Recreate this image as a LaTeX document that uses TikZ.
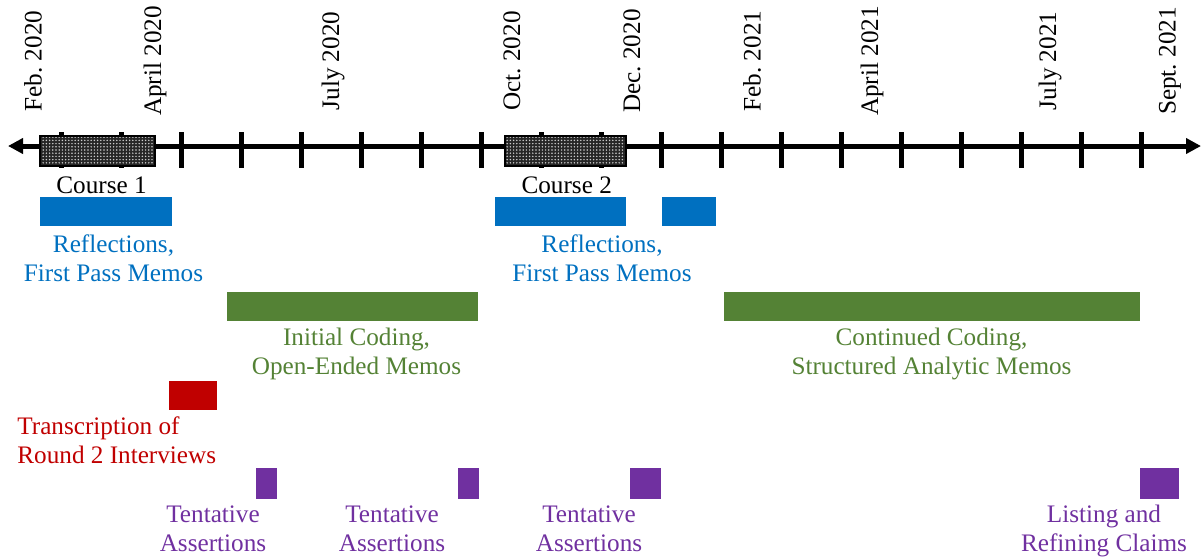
\documentclass[tikz,border=0pt]{standalone}
\usepackage{fontspec}
\setmainfont{Liberation Serif}
\frenchspacing
\usetikzlibrary{arrows.meta,patterns}
\definecolor{cblue}{HTML}{0070C0}
\definecolor{cgreen}{HTML}{548235}
\definecolor{cred}{HTML}{C00000}
\definecolor{cpurple}{HTML}{7030A0}
\pgfdeclarepatternformonly{finedots}{\pgfqpoint{-0.1pt}{-0.1pt}}{\pgfqpoint{1.7pt}{1.7pt}}{\pgfqpoint{1.6pt}{1.6pt}}{\pgfpathcircle{\pgfqpoint{0.8pt}{0.8pt}}{0.42pt}\pgfusepath{fill}}
\tikzset{
  txt/.style={font=\fontsize{12.6}{14.5}\selectfont, inner sep=0pt, align=center},
  datelbl/.style={txt, rotate=90},
  tickline/.style={line width=2.6pt},
  axisline/.style={line width=2.5pt, {Triangle[length=7.5pt,width=7.5pt]}-{Triangle[length=7.5pt,width=7.5pt]}},
  coursebox/.style={draw=black, line width=1pt, fill=black!85},
  coursedots/.style={pattern=finedots, pattern color=white!80!black},
}
\begin{document}
\begin{tikzpicture}[x=0.5pt,y=-0.5pt]
\useasboundingbox (0,0) rectangle (1203,558);
% date labels
\foreach [count=\i] \x/\t in {33/Feb. 2020, 155/April 2020, 333/July 2020, 512/Oct. 2020, 632/Dec. 2020, 752/Feb. 2021, 872/April 2021, 1050/July 2021, 1170/Sept. 2021}
  \node[datelbl] (date\i) at (\x,61) {\t};
% axis
\coordinate (axL) at (8,146);
\coordinate (axR) at (1201,146);
\draw[axisline] (axL) -- (axR);
\foreach \i in {0,...,18}
  \draw[tickline] ({61.7+60*\i},132) -- ({61.7+60*\i},168);
% courses
\draw[coursebox] (40,136) rectangle (155,166);
\fill[coursedots] (40,136) rectangle (155,166);
\draw[line width=1pt] (40,136) rectangle (155,166);
\draw[coursebox] (505,136) rectangle (626,166);
\fill[coursedots] (505,136) rectangle (626,166);
\draw[line width=1pt] (505,136) rectangle (626,166);
\node[txt, anchor=base] (c1) at (101.5,193) {Course 1};
\node[txt, anchor=base] (c2) at (566.7,193) {Course 2};
% blue
\fill[cblue] (40,197) rectangle (172,226);
\fill[cblue] (495,197) rectangle (626,226);
\fill[cblue] (662,197) rectangle (716,226);
\node[txt, text=cblue, anchor=base] (refl1) at (113.5,281) {Reflections,\\First Pass Memos};
\node[txt, text=cblue, anchor=base] (refl2) at (602,281) {Reflections,\\First Pass Memos};
% green
\fill[cgreen] (227,292) rectangle (478,321);
\fill[cgreen] (724,292) rectangle (1140,321);
\node[txt, text=cgreen, anchor=base] (code1) at (356.5,374) {Initial Coding,\\Open-Ended Memos};
\node[txt, text=cgreen, anchor=base] (code2) at (931.5,374) {Continued Coding,\\Structured Analytic Memos};
% red
\fill[cred] (169,381) rectangle (217,410);
\node[txt, text=cred, align=left, anchor=base west] (trans) at (17,463) {Transcription of\\Round 2 Interviews};
% purple
\fill[cpurple] (256,468) rectangle (277,499);
\fill[cpurple] (458,468) rectangle (479,499);
\fill[cpurple] (630,468) rectangle (661,499);
\fill[cpurple] (1140,468) rectangle (1179,499);
\node[txt, text=cpurple, anchor=base] (ta1) at (213,551) {Tentative\\Assertions};
\node[txt, text=cpurple, anchor=base] (ta2) at (392,551) {Tentative\\Assertions};
\node[txt, text=cpurple, anchor=base] (ta3) at (589,551) {Tentative\\Assertions};
\node[txt, text=cpurple, anchor=base] (lr) at (1104,551) {Listing and\\Refining Claims};
\end{tikzpicture}
\end{document}
